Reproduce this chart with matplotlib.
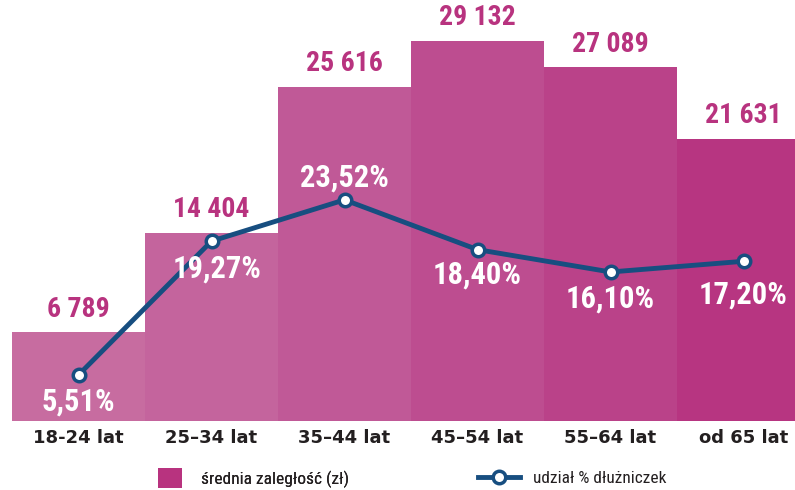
import numpy as np
import matplotlib
matplotlib.use("Agg")
import matplotlib.pyplot as plt
from matplotlib import font_manager
from matplotlib.lines import Line2D
from matplotlib.patches import Patch

# data
categories = ['18-24 lat', '25–34 lat', '35–44 lat', '45–54 lat', '55–64 lat', 'od 65 lat']
avg_debt = [6789, 14404, 25616, 29132, 27089, 21631]
share_pct = [5.51, 19.27, 23.52, 18.40, 16.10, 17.20]
debt_labels = ['6 789', '14 404', '25 616', '29 132', '27 089', '21 631']
share_labels = ['5,51%', '19,27%', '23,52%', '18,40%', '16,10%', '17,20%']

bar_colors = ['#c76ca0', '#c4649d', '#c05997', '#bd4d90', '#ba4289', '#b73581']
line_color = '#174e80'
label_color = '#b8337f'

# pick a narrow family if one is installed
names = {f.name for f in font_manager.fontManager.ttflist}
narrow = [n for n in ['Roboto Condensed', 'Liberation Sans Narrow', 'Open Sans Condensed',
                      'DejaVu Sans Condensed'] if n in names]
cond = narrow[0] if narrow else 'Roboto'

fig = plt.figure(figsize=(7.95, 4.9), dpi=100)
ax = fig.add_axes([12/795, 69/490, 783/795, 421/490])
x = np.arange(len(categories))

ax.bar(x, avg_debt, width=1.0, color=bar_colors, edgecolor='none')
ax.set_xlim(-0.5, 5.387)
ax.set_ylim(0, 32260)
for xi, v, lab in zip(x, avg_debt, debt_labels):
    ax.annotate(lab, (xi, v), xytext=(0, 7), textcoords='offset points',
                ha='center', va='bottom', fontsize=20, fontweight='bold',
                color=label_color, family=cond)

ax2 = ax.twinx()
ax2.set_ylim(0.77, 44.08)
ax2.plot(x, share_pct, color=line_color, lw=3.5, marker='o', ms=9,
         mfc='white', mec=line_color, mew=2.5, zorder=5)

# label offsets (points) for each percentage
offsets = [(0, -19), (4, -20), (0, 16), (0, -18), (0, -19), (0, -24)]
for xi, v, lab, off in zip(x, share_pct, share_labels, offsets):
    ax2.annotate(lab, (xi, v), xytext=off, textcoords='offset points',
                 ha='center', va='center', fontsize=22, fontweight='bold',
                 color='white', family=cond, zorder=6)

for a in (ax, ax2):
    for s in a.spines.values():
        s.set_visible(False)
    a.set_yticks([])
ax.set_xticks(x)
ax.set_xticklabels(categories, fontsize=13, fontweight='bold', color='#231f20')
ax.tick_params(axis='x', length=0, pad=6)

leg1 = fig.legend([Patch(facecolor='#b8337f', edgecolor='none')], ['średnia zaległość (zł)'],
                  loc='center left', bbox_to_anchor=(158/795, 12/490), frameon=False,
                  borderpad=0, borderaxespad=0, handlelength=1.4, handleheight=1.4,
                  handletextpad=1.05, prop={'family': cond, 'size': 12.5}, labelcolor='#231f20')
fig.legend([Line2D([], [], color=line_color, lw=3.5, marker='o', ms=9,
                   mfc='white', mec=line_color, mew=2.5)], ['udział % dłużniczek'],
           loc='center left', bbox_to_anchor=(478/795, 12/490), frameon=False,
           borderpad=0, borderaxespad=0, handlelength=2.4, handletextpad=0.75,
           prop={'family': cond, 'size': 12.5}, labelcolor='#231f20')
fig.add_artist(leg1)

fig.savefig('out.png', dpi=100)
